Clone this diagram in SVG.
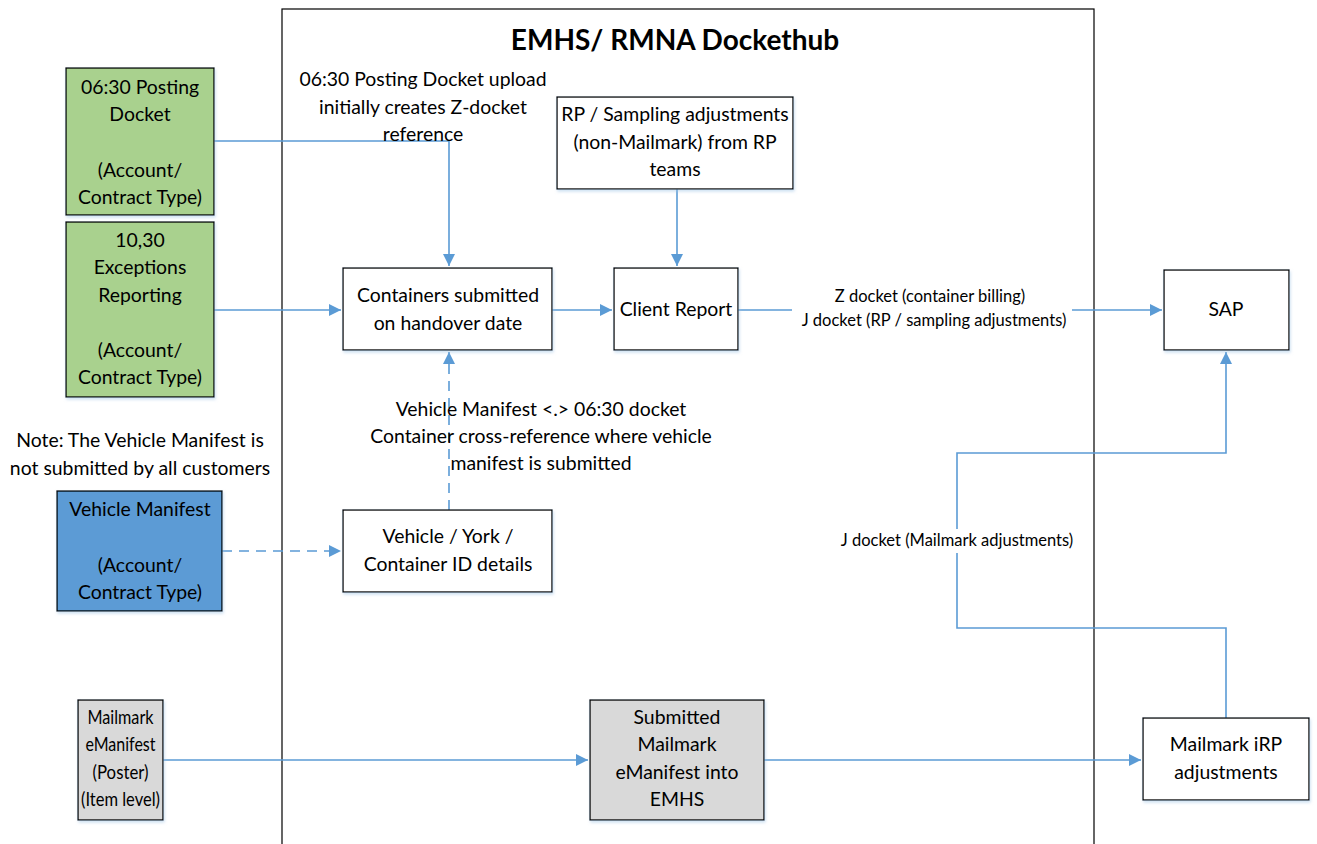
<svg xmlns="http://www.w3.org/2000/svg" width="1317" height="844" viewBox="0 0 1317 844">
<style>
text{font-family:Lato,"Noto Sans","Liberation Sans",sans-serif;fill:#000;text-anchor:middle}
.t{font-size:19.4px}
.s{font-size:16.5px}
.h{font-size:28px;font-weight:bold}
.box{stroke:#000;stroke-width:1.3}
.w{fill:#fff}
.g{fill:#A9D18E}
.b{fill:#5B9BD5}
.gr{fill:#D9D9D9}
.c{fill:none;stroke:#5B9BD5;stroke-width:1.6}
.d{stroke-dasharray:10 7}
</style>
<defs>
<marker id="a" viewBox="0 0 10 10" refX="10" refY="5" markerWidth="12" markerHeight="12" markerUnits="userSpaceOnUse" orient="auto">
<path d="M0,0 L10,5 L0,10 z" fill="#5B9BD5"/>
</marker>
<filter id="sh" x="-10%" y="-10%" width="130%" height="130%">
<feDropShadow dx="1" dy="2" stdDeviation="1.5" flood-color="#9DC3E6" flood-opacity="0.5"/>
</filter>
</defs>

<g id="container">
<rect x="282" y="9" width="812" height="850" fill="#fff" stroke="#000" stroke-width="1.2"/>
<text class="h" x="675" y="50">EMHS/ RMNA Dockethub</text>
</g>

<g id="connectors">
<path class="c" d="M214,141 H449 V266" marker-end="url(#a)"/>
<path class="c" d="M214,310 H341" marker-end="url(#a)"/>
<path class="c" d="M552,310 H612" marker-end="url(#a)"/>
<path class="c" d="M677,189 V266" marker-end="url(#a)"/>
<path class="c" d="M738,310 H1162" marker-end="url(#a)"/>
<path class="c d" d="M449,510 V352" marker-end="url(#a)"/>
<path class="c d" d="M222,551 H341" marker-end="url(#a)"/>
<path class="c" d="M163,760 H588" marker-end="url(#a)"/>
<path class="c" d="M764,760 H1141" marker-end="url(#a)"/>
<path class="c" d="M1226,718 V628 H957 V453 H1226 V352" marker-end="url(#a)"/>
<rect x="792" y="283" width="280" height="48" fill="#fff"/>
<text class="s" x="930" y="302">Z docket (container billing)</text>
<text class="s" x="934" y="326">J docket (RP / sampling  adjustments)</text>
<rect x="838" y="529" width="238" height="24" fill="#fff"/>
<text class="s" x="957" y="546">J docket (Mailmark adjustments)</text>
<text class="t" x="423" y="86">06:30  Posting Docket upload</text>
<text class="t" x="423" y="114">initially creates Z-docket</text>
<text class="t" x="423" y="141">reference</text>
<text class="t" x="541" y="416">Vehicle Manifest &lt;.&gt; 06:30 docket</text>
<text class="t" x="541" y="443">Container cross-reference where vehicle</text>
<text class="t" x="541" y="470">manifest is submitted</text>
</g>

<g id="posting-docket">
<rect class="box g" x="66" y="68" width="148" height="147" filter="url(#sh)"/>
<text class="t" x="140" y="94">06:30 Posting</text>
<text class="t" x="140" y="121">Docket</text>
<text class="t" x="140" y="177">(Account/</text>
<text class="t" x="140" y="204">Contract Type)</text>
</g>

<g id="exceptions">
<rect class="box g" x="66" y="222" width="148" height="175" filter="url(#sh)"/>
<text class="t" x="140" y="247">10,30</text>
<text class="t" x="140" y="274">Exceptions</text>
<text class="t" x="140" y="302">Reporting</text>
<text class="t" x="140" y="357">(Account/</text>
<text class="t" x="140" y="384">Contract Type)</text>
</g>

<g id="note">
<text class="t" x="140" y="447">Note: The Vehicle Manifest is</text>
<text class="t" x="140" y="475">not submitted by all customers</text>
</g>

<g id="vehicle-manifest">
<rect class="box b" x="57" y="491" width="165" height="120" filter="url(#sh)"/>
<text class="t" x="140" y="516">Vehicle Manifest</text>
<text class="t" x="140" y="572">(Account/</text>
<text class="t" x="140" y="599">Contract Type)</text>
</g>

<g id="mailmark-emanifest">
<rect class="box gr" x="78" y="700" width="85" height="120" filter="url(#sh)"/>
<text class="t" x="120.5" y="724" textLength="66" lengthAdjust="spacingAndGlyphs">Mailmark</text>
<text class="t" x="120.5" y="751" textLength="70" lengthAdjust="spacingAndGlyphs">eManifest</text>
<text class="t" x="120.5" y="779" textLength="56" lengthAdjust="spacingAndGlyphs">(Poster)</text>
<text class="t" x="120.5" y="806" textLength="79" lengthAdjust="spacingAndGlyphs">(Item level)</text>
</g>

<g id="rp-sampling">
<rect class="box w" x="557" y="97" width="236" height="92" filter="url(#sh)"/>
<text class="t" x="675" y="121">RP / Sampling adjustments</text>
<text class="t" x="675" y="149">(non-Mailmark) from RP</text>
<text class="t" x="675" y="176">teams</text>
</g>

<g id="containers-submitted">
<rect class="box w" x="343" y="268" width="209" height="82" filter="url(#sh)"/>
<text class="t" x="448" y="302">Containers submitted</text>
<text class="t" x="448" y="330">on handover date</text>
</g>

<g id="client-report">
<rect class="box w" x="614" y="268" width="124" height="82" filter="url(#sh)"/>
<text class="t" x="676" y="316">Client Report</text>
</g>

<g id="sap">
<rect class="box w" x="1164" y="270" width="125" height="80" filter="url(#sh)"/>
<text class="t" x="1226" y="316">SAP</text>
</g>

<g id="vehicle-york">
<rect class="box w" x="343" y="510" width="209" height="82" filter="url(#sh)"/>
<text class="t" x="448" y="543">Vehicle / York /</text>
<text class="t" x="448" y="571">Container ID details</text>
</g>

<g id="submitted-mailmark">
<rect class="box gr" x="590" y="700" width="174" height="120" filter="url(#sh)"/>
<text class="t" x="677" y="724">Submitted</text>
<text class="t" x="677" y="751">Mailmark</text>
<text class="t" x="677" y="779">eManifest into</text>
<text class="t" x="677" y="806">EMHS</text>
</g>

<g id="mailmark-irp">
<rect class="box w" x="1143" y="718" width="166" height="82" filter="url(#sh)"/>
<text class="t" x="1226" y="751">Mailmark iRP</text>
<text class="t" x="1226" y="779">adjustments</text>
</g>
</svg>
